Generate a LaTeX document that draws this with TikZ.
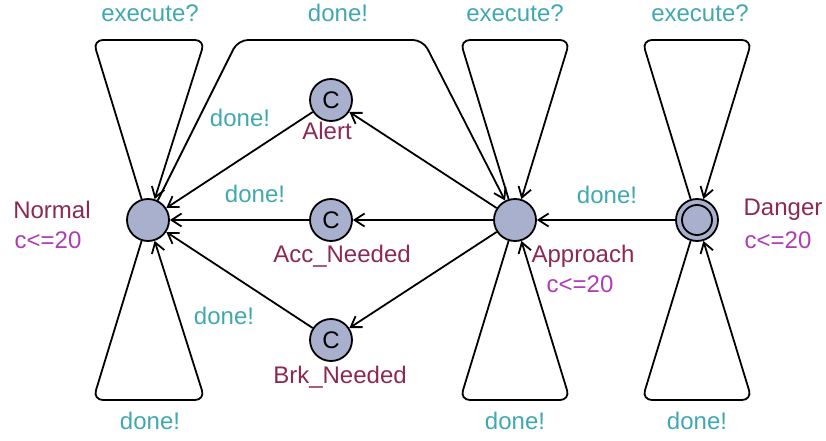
\documentclass[tikz,border=0pt]{standalone}
\usepackage{fontspec}
\setmainfont{Liberation Sans}
\usetikzlibrary{arrows.meta}

\definecolor{locfill}{RGB}{168,176,206}
\definecolor{synccol}{RGB}{64,168,176}
\definecolor{namecol}{RGB}{140,40,84}
\definecolor{invcol}{RGB}{176,60,180}

\begin{document}
\begin{tikzpicture}[x=1pt,y=1pt,
        every node/.style={font=\fontsize{24}{28}\selectfont},
        loc/.style={circle,draw,line width=1.8pt,fill=locfill,minimum size=42pt,inner sep=0pt},
        committed/.style={loc,font=\fontsize{24}{28}\selectfont},
        edge/.style={line width=1.8pt,-{Straight Barb[length=10pt,width=13pt,line width=1.8pt]}},
        loopedge/.style={edge,rounded corners=10pt},
        sync/.style={text=synccol},
        locname/.style={text=namecol},
        inv/.style={text=invcol}]
    \useasboundingbox (0,0) rectangle (826,-441);

    % locations
    \node [loc] (Normal) at (148,-220) {};
    \node [committed] (Alert) at (331,-100) {C};
    \node [committed] (AccNeeded) at (331,-220) {C};
    \node [committed] (BrkNeeded) at (331,-340) {C};
    \node [loc] (Approach) at (515,-220) {};
    \node [loc] (Danger) at (697,-220) {};
    \draw [line width=1.8pt] (Danger.center) circle (15);

    % names and invariants
    \node [locname] (NormalName) at (52,-210) {Normal};
    \node [inv] (NormalInv) at (48,-240) {c<=20};
    \node [locname] (AlertName) at (327,-131) {Alert};
    \node [locname] (AccName) at (342,-256) {Acc\_Needed};
    \node [locname] (BrkName) at (340,-377) {Brk\_Needed};
    \node [locname] (ApproachName) at (583,-256) {Approach};
    \node [inv] (ApproachInv) at (580,-284) {c<=20};
    \node [locname] (DangerName) at (783,-210) {Danger};
    \node [inv] (DangerInv) at (778,-240) {c<=20};

    % corners of the loops
    \coordinate (nTL) at (93,-40);
    \coordinate (nTR) at (205,-40);
    \coordinate (nBL) at (93,-400);
    \coordinate (nBR) at (205,-400);
    \coordinate (aTL) at (460,-40);
    \coordinate (aTR) at (570,-40);
    \coordinate (aBL) at (460,-400);
    \coordinate (aBR) at (570,-400);
    \coordinate (dTL) at (642,-40);
    \coordinate (dTR) at (752,-40);
    \coordinate (dBL) at (642,-400);
    \coordinate (dBR) at (752,-400);
    \coordinate (bigL) at (238,-40);
    \coordinate (bigR) at (423,-40);

    % self loops
    \draw [loopedge] (Normal) -- (nTL) -- (nTR) -- (Normal);
    \draw [loopedge] (Normal) -- (nBL) -- (nBR) -- (Normal);
    \draw [loopedge] (Approach) -- (aTL) -- (aTR) -- (Approach);
    \draw [loopedge] (Approach) -- (aBL) -- (aBR) -- (Approach);
    \draw [loopedge] (Danger) -- (dTL) -- (dTR) -- (Danger);
    \draw [loopedge] (Danger) -- (dBL) -- (dBR) -- (Danger);
    \node [sync] (execN) at (150,-13) {execute?};
    \node [sync] (doneN) at (150,-421) {done!};
    \node [sync] (execA) at (515,-13) {execute?};
    \node [sync] (doneA) at (515,-421) {done!};
    \node [sync] (execD) at (700,-13) {execute?};
    \node [sync] (doneD) at (697,-421) {done!};

    % transitions
    \draw [loopedge] (Normal) -- (bigL) -- (bigR) -- (Approach);
    \node [sync] (doneTop) at (338,-13) {done!};
    \draw [edge] (Approach) -- (Alert);
    \draw [edge] (Approach) -- (AccNeeded);
    \draw [edge] (Approach) -- (BrkNeeded);
    \draw [edge] (Alert) -- (Normal);
    \node [sync] (doneAlert) at (240,-118) {done!};
    \draw [edge] (AccNeeded) -- (Normal);
    \node [sync] (doneAcc) at (255,-194) {done!};
    \draw [edge] (BrkNeeded) -- (Normal);
    \node [sync] (doneBrk) at (224,-316) {done!};
    \draw [edge] (Danger) -- (Approach);
    \node [sync] (doneDanger) at (607,-195) {done!};
\end{tikzpicture}
\end{document}
